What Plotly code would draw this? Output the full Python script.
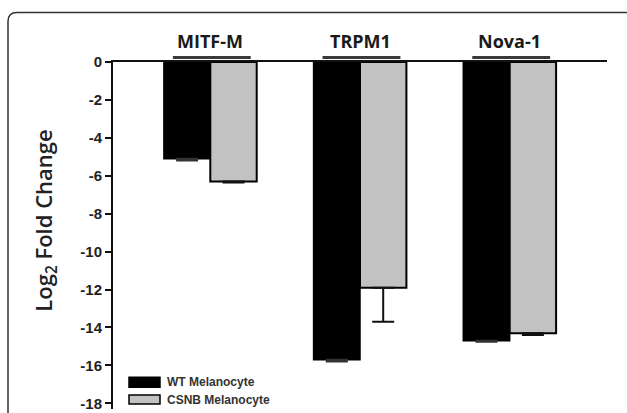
import plotly.graph_objects as go

genes = ["MITF-M", "TRPM1", "Nova-1"]
wt_values = [-5.1, -15.7, -14.7]
wt_err = [0.1, 0.1, 0.05]
csnb_values = [-6.3, -11.9, -14.3]
csnb_err = [0.05, 1.8, 0.1]
series_names = ["WT Melanocyte", "CSNB Melanocyte"]
y_ticks = [0, -2, -4, -6, -8, -10, -12, -14, -16, -18]
y_ticktext = ["0", "-2", "-4", "-6", "-8", "-10", "-12", "-14", "-16", "-18"]

fig = go.Figure()
fig.add_trace(go.Bar(
    x=genes, y=wt_values, name=series_names[0],
    marker=dict(color="#000000", line=dict(color="#000000", width=1.5)),
    error_y=dict(type="data", symmetric=False, array=[0, 0, 0], arrayminus=wt_err,
                 color="#333333", thickness=2, width=11),
    showlegend=False,
))
fig.add_trace(go.Bar(
    x=genes, y=csnb_values, name=series_names[1],
    marker=dict(color="#c2c2c2", line=dict(color="#000000", width=2)),
    error_y=dict(type="data", symmetric=False, array=[0, 0, 0], arrayminus=csnb_err,
                 color="#111111", thickness=2, width=11),
    showlegend=False,
))

shapes = []
annotations = []


def px_x(px):
    return (px - 113) / 494


def px_y(py):
    return 1 - (py - 62) / 350


# gene labels with bracket lines above the zero line
for i, g in enumerate(genes):
    annotations.append(dict(x=i, y=px_y(41), xref="x", yref="paper", text=g, showarrow=False,
                            font=dict(family="Open Sans", size=18, color="#1a1a1a", weight="bold"),
                            xanchor="center", yanchor="middle"))
    shapes.append(dict(type="line", xref="x", yref="paper", x0=i - 0.25, x1=i + 0.27,
                       y0=px_y(57.5), y1=px_y(57.5), line=dict(color="#3a3a3a", width=3)))

# custom legend (paper coordinates)
leg = [("#000000", 380, 390, 385), ("#c2c2c2", 398, 407, 403)]
for (col, y0, y1, yt), name in zip(leg, series_names):
    shapes.append(dict(type="rect", xref="paper", yref="paper", x0=px_x(129), x1=px_x(160),
                       y0=px_y(y1), y1=px_y(y0), fillcolor=col,
                       line=dict(color="#000000", width=1.5)))
    annotations.append(dict(x=px_x(165), y=px_y(yt), xref="paper", yref="paper", text=name,
                            showarrow=False, xanchor="left", yanchor="middle",
                            font=dict(family="Arial", size=12, color="#333333", weight="bold")))

# y-axis title
annotations.append(dict(x=px_x(45), y=px_y(222), xref="paper", yref="paper",
                        text="Log<sub>2</sub> Fold Change", showarrow=False, textangle=-90,
                        xanchor="center", yanchor="middle",
                        font=dict(family="Open Sans", size=22, color="#222222", weight=600)))

# rounded frame
r = 9
path = (f"M {px_x(8)},{px_y(430)} L {px_x(8)},{px_y(12 + r)} "
        f"Q {px_x(8)},{px_y(12)} {px_x(8 + r)},{px_y(12)} L {px_x(640)},{px_y(12)}")
shapes.append(dict(type="path", xref="paper", yref="paper", path=path,
                   line=dict(color="#333333", width=1.5)))

fig.update_layout(
    width=627, height=413,
    margin=dict(l=113, r=20, t=62, b=1),
    paper_bgcolor="white", plot_bgcolor="white",
    barmode="group", bargap=0.38, bargroupgap=0,
    shapes=shapes, annotations=annotations,
    xaxis=dict(range=[-0.65, 2.65], side="top", showticklabels=False, ticks="",
               showline=True, linecolor="#111111", linewidth=2, showgrid=False, zeroline=False),
    yaxis=dict(range=[-18.3, 0], tickvals=y_ticks, ticktext=y_ticktext, ticks="outside",
               ticklen=6, tickwidth=2, ticklabeloverflow="allow",
               tickcolor="#111111", showline=True, linecolor="#111111", linewidth=2,
               showgrid=False, zeroline=False,
               tickfont=dict(family="Arial", size=15, color="#222222", weight="bold")),
)

fig.write_html("out.html", config={"displayModeBar": False},
               post_script="document.body.style.margin='0';")
